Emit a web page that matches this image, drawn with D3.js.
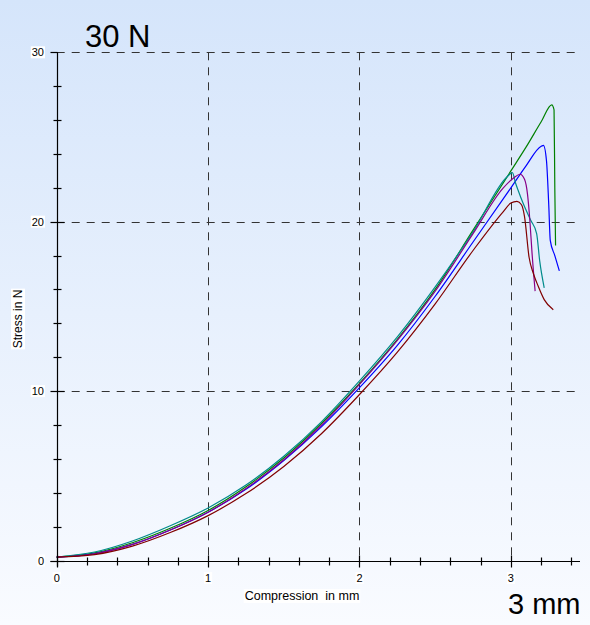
<!DOCTYPE html>
<html><head><meta charset="utf-8">
<script src="https://cdn.jsdelivr.net/npm/d3@7"></script>
<style>html,body{margin:0;padding:0;overflow:hidden;}svg{display:block;}</style>
</head><body>
<script>
// ---- data ----
const xTicksMajor = [0, 1, 2, 3];
const yTicksMajor = [0, 10, 20, 30];
const titleText = "30 N";
const cornerText = "3 mm";
const xLabel = "Compression  in mm";
const yLabel = "Stress in N";
const seriesNames = ["green", "blue", "teal", "purple", "darkred"];
const seriesColors = ["#008000", "#0000ff", "#008b8b", "#880088", "#800000"];

const greenX = [0, 0.25, 0.5, 0.75, 1, 1.25, 1.5, 1.75, 2, 2.25, 2.5, 2.75, 3, 3.1, 3.2, 3.27, 3.285, 3.29, 3.295];
const greenY = [0.2, 0.45, 1.05, 1.9, 2.95, 4.35, 6.05, 8.1, 10.45, 13.05, 16.0, 19.5, 23.0, 24.4, 25.9, 26.9, 26.6, 22.0, 18.6];
const blueX = [0, 0.25, 0.5, 0.75, 1, 1.25, 1.5, 1.75, 2, 2.25, 2.5, 2.75, 3, 3.1, 3.2, 3.215, 3.235, 3.25, 3.26, 3.29, 3.32];
const blueY = [0.2, 0.4, 0.95, 1.8, 2.85, 4.2, 5.9, 7.9, 10.2, 12.7, 15.6, 18.8, 22.0, 23.3, 24.45, 24.5, 23.6, 21.0, 18.9, 18.0, 17.1];
const tealX = [0, 0.25, 0.5, 0.75, 1, 1.25, 1.5, 1.75, 2, 2.25, 2.5, 2.75, 2.98, 3.01, 3.03, 3.05, 3.08, 3.13, 3.17, 3.19, 3.22];
const tealY = [0.2, 0.5, 1.15, 2.05, 3.1, 4.45, 6.15, 8.2, 10.6, 13.2, 16.15, 19.4, 22.7, 22.9, 22.3, 21.8, 21.1, 20.1, 19.3, 17.7, 16.1];
const purpleX = [0, 0.25, 0.5, 0.75, 1, 1.25, 1.5, 1.75, 2, 2.25, 2.5, 2.75, 2.95, 3.02, 3.06, 3.09, 3.11, 3.125, 3.14, 3.16];
const purpleY = [0.2, 0.4, 0.95, 1.8, 2.85, 4.25, 5.95, 8.0, 10.4, 13.0, 15.9, 19.3, 22.0, 22.6, 22.8, 22.5, 21.6, 20.1, 18.1, 15.9];
const darkredX = [0, 0.25, 0.5, 0.75, 1, 1.25, 1.5, 1.75, 2, 2.25, 2.5, 2.75, 2.95, 3.0, 3.04, 3.07, 3.09, 3.12, 3.15, 3.18, 3.22, 3.28];
const darkredY = [0.2, 0.35, 0.85, 1.65, 2.65, 3.95, 5.55, 7.5, 9.8, 12.3, 15.15, 18.3, 20.6, 21.1, 21.2, 21.0, 20.3, 17.9, 16.9, 16.2, 15.4, 14.8];

const seriesX = [greenX, blueX, tealX, purpleX, darkredX];
const seriesY = [greenY, blueY, tealY, purpleY, darkredY];

// ---- layout ----
const W = 590, H = 625;
const svg = d3.select("body").append("svg").attr("width", W).attr("height", H)
  .style("font-family", "Arial, 'Liberation Sans', sans-serif");

const defs = svg.append("defs");
const grad = defs.append("linearGradient").attr("id", "bg").attr("x1", 0).attr("y1", 0).attr("x2", 0).attr("y2", 1);
grad.append("stop").attr("offset", "0%").attr("stop-color", "#d5e5fb");
grad.append("stop").attr("offset", "100%").attr("stop-color", "#f9fbff");
svg.append("rect").attr("width", W).attr("height", H).attr("fill", "url(#bg)");

const x = d3.scaleLinear().domain([0, 3]).range([56.7, 510.9]);
const y = d3.scaleLinear().domain([0, 30]).range([560.5, 52.3]);
const xEnd = 580;

// gridlines
const grid = svg.append("g").attr("stroke", "#333").attr("stroke-width", 1).attr("stroke-dasharray", "8,7").attr("fill", "none");
yTicksMajor.filter(v => v > 0).forEach(v => {
  grid.append("line").attr("x1", x(0)).attr("x2", xEnd).attr("y1", Math.round(y(v)) + 0.5).attr("y2", Math.round(y(v)) + 0.5);
});
xTicksMajor.filter(v => v > 0).forEach(v => {
  grid.append("line").attr("x1", Math.round(x(v)) + 0.5).attr("x2", Math.round(x(v)) + 0.5).attr("y1", y(30)).attr("y2", y(0));
});

// curves
const line = d3.line().x(d => x(d[0])).y(d => y(d[1])).curve(d3.curveMonotoneX);
seriesNames.forEach((n, i) => {
  const pts = seriesX[i].map((v, j) => [v, seriesY[i][j]]);
  svg.append("path").datum(pts).attr("d", line).attr("fill", "none")
    .attr("stroke", seriesColors[i]).attr("stroke-width", 1.2);
});

// axes
const ax = svg.append("g").attr("stroke", "#000").attr("stroke-width", 1.2);
const x0 = Math.round(x(0)) + 0.5, y0 = Math.round(y(0)) + 0.5;
ax.append("line").attr("x1", x0).attr("x2", x0).attr("y1", y(30)).attr("y2", y0 + 5);
ax.append("line").attr("x1", x0 - 7).attr("x2", xEnd).attr("y1", y0).attr("y2", y0);
// x ticks
d3.range(0, 3.41, 0.2).forEach(v => {
  const major = Math.abs(v - Math.round(v)) < 1e-6;
  const px = Math.round(x(v)) + 0.5;
  ax.append("line").attr("x1", px).attr("x2", px).attr("y1", y0 - (major ? 6 : 4)).attr("y2", y0 + (major ? 6 : 4));
});
// y ticks
d3.range(0, 30.01, 2).forEach(v => {
  const major = v % 10 === 0;
  const py = Math.round(y(v)) + 0.5;
  if (major) ax.append("line").attr("x1", x0 - 7).attr("x2", v === 30 ? x0 : x0 + 7).attr("y1", py).attr("y2", py);
  else ax.append("line").attr("x1", x0 - 4).attr("x2", x0 + 4).attr("y1", py).attr("y2", py);
});

function boxedText(g, txt, attrs) {
  const t = g.append("text").text(txt);
  Object.entries(attrs).forEach(([k, v]) => t.attr(k, v));
  const bb = t.node().getBBox();
  g.insert("rect", () => t.node()).attr("x", bb.x - 1).attr("y", bb.y).attr("width", bb.width + 2).attr("height", bb.height).attr("fill", "#fff")
    .attr("transform", attrs.transform || null);
  return t;
}

const lab = svg.append("g").attr("fill", "#000");
yTicksMajor.forEach(v => {
  boxedText(lab.append("g"), String(v), { x: 44, y: y(v) + 4, "text-anchor": "end", "font-size": 11 });
});
xTicksMajor.forEach(v => {
  boxedText(lab.append("g"), String(v), { x: x(v), y: 582, "text-anchor": "middle", "font-size": 11 });
});
boxedText(lab.append("g"), xLabel, { x: 302, y: 600, "text-anchor": "middle", "font-size": 12.5, "xml:space": "preserve" });
boxedText(lab.append("g"), yLabel, { x: 0, y: 0, "text-anchor": "middle", "font-size": 12, transform: "translate(22,319) rotate(-90)" });

svg.append("text").text(titleText).attr("x", 85).attr("y", 47).attr("font-size", 31).attr("fill", "#000");
svg.append("text").text(cornerText).attr("x", 508).attr("y", 614).attr("font-size", 29).attr("fill", "#000");
</script>
</body></html>
